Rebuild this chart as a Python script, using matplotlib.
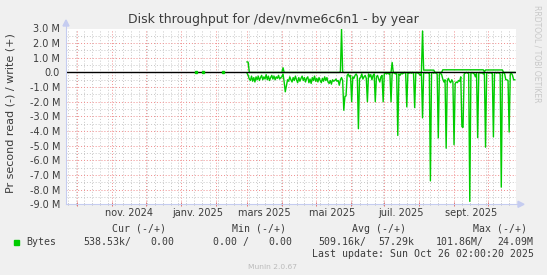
import datetime as dt
import numpy as np
import matplotlib
matplotlib.use("Agg")
import matplotlib.pyplot as plt
import matplotlib.dates as mdates
from matplotlib.lines import Line2D
from matplotlib.patches import Polygon, Rectangle
from matplotlib.ticker import MultipleLocator
from matplotlib.transforms import blended_transform_factory

W, H = 547, 275

# ---------------- data ----------------
graph_start = dt.datetime(2024, 9, 21, 2, 0, 20)
graph_end = dt.datetime(2025, 10, 26, 2, 0, 20)
series_start = dt.datetime(2025, 3, 1)

# daily read throughput (M bytes/s), plotted negative
read_M = [
    0.05, 0.20, 0.45, 0.55, 0.25, 0.60, 0.35, 0.65, 0.30, 0.50,
    0.25, 0.55, 0.35, 0.20, 0.50, 0.30, 0.45, 0.15, 0.50, 0.25,
    0.55, 0.35, 0.20, 0.45, 0.25, 0.50, 0.30, 0.40, 0.20, 0.45,
    0.35, 0.30, 0.10, 0.65, 1.32, 0.90, 0.50, 0.60, 0.30, 0.50,
    0.65, 0.35, 0.55, 0.25, 0.50, 0.70, 0.35, 0.60, 0.40, 0.25,
    0.55, 0.35, 0.65, 0.40, 0.30, 0.70, 0.45, 0.75, 0.35, 0.55,
    0.25, 0.60, 0.40, 0.65, 0.35, 0.55, 0.70, 0.40, 0.60, 0.30,
    0.55, 0.35, 0.65, 0.75, 0.55, 0.80, 0.50, 0.60, 0.55, 0.45,
    0.60, 0.55, 0.87, 0.50, 0.35, 0.55, 2.58, 1.65, 1.60, 0.20,
    0.10, 0.30, 0.20, 2.00, 0.30, 0.40, 0.20, 0.10, 0.25, 3.84,
    0.40, 0.35, 0.10, 0.45, 0.30, 0.20, 0.40, 2.00, 0.10, 0.30,
    0.15, 0.50, 0.20, 0.10, 2.00, 0.30, 0.20, 0.45, 0.65, 0.30,
    0.20, 2.00, 0.10, 0.05, 0.10, 0.05, 0.10, 0.05, 2.00, 0.05,
    0.00, 0.05, 0.10, 0.05, 4.30, 0.10, 0.20, 0.05, 0.10, 0.05,
    0.00, 0.05, 2.35, 0.00, 0.05, 0.00, 0.05, 0.00, 0.05, 2.40,
    0.05, 0.00, 0.05, 0.10, 0.20, 0.05, 3.10, 0.05, 0.00, 0.05,
    0.00, 0.05, 0.00, 7.40, 0.05, 0.00, 0.05, 0.00, 0.05, 0.10,
    4.47, 0.10, 0.05, 0.15, 0.45, 0.65, 0.50, 5.17, 0.55, 0.40,
    0.60, 0.70, 0.50, 0.65, 4.93, 0.75, 0.65, 0.70, 0.55, 0.60,
    0.30, 3.70, 3.75, 0.10, 0.05, 0.00, 0.05, 0.00, 8.80, 0.05,
    0.00, 0.05, 0.10, 0.30, 0.05, 4.45, 0.05, 0.00, 0.05, 0.00,
    0.10, 0.05, 5.10, 0.05, 0.00, 0.05, 0.00, 0.05, 0.00, 4.40,
    0.05, 0.00, 0.05, 0.00, 0.05, 0.10, 7.83, 0.05, 0.00, 0.10,
    0.50, 0.50, 0.55, 4.07, 0.10, 0.05, 0.20, 0.50, 0.50,
]

# daily write throughput (M bytes/s), plotted positive
write_M = [
    0.72, 0.70, 0.02, 0, 0, 0, 0, 0, 0, 0,
    0, 0, 0, 0, 0, 0, 0, 0, 0, 0,
    0, 0, 0, 0, 0, 0, 0, 0, 0, 0,
    0, 0, 0.32, 0, 0, 0, 0, 0, 0, 0,
    0, 0, 0, 0, 0, 0, 0, 0, 0, 0,
    0, 0, 0, 0, 0, 0, 0, 0, 0, 0,
    0, 0, 0, 0, 0, 0, 0, 0, 0, 0,
    0, 0, 0, 0, 0, 0, 0, 0, 0, 0,
    0, 0, 0, 0.05, 2.95, 0.05, 0, 0, 0, 0,
    0, 0, 0, 0, 0, 0, 0, 0, 0, 0,
    0, 0, 0, 0, 0, 0, 0, 0, 0, 0,
    0, 0, 0, 0, 0, 0, 0, 0, 0, 0,
    0, 0, 0, 0, 0, 0, 0, 0, 0, 0.68,
    0, 0, 0, 0, 0, 0, 0, 0, 0, 0,
    0, 0, 0, 0, 0, 0, 0, 0, 0, 0,
    0, 0, 0, 0, 0, 0, 2.83, 0.16, 0.16, 0.16,
    0.16, 0.16, 0.16, 0.16, 0.16, 0.16, 0.16, 0, 0, 0,
    0, 0, 0, 0, 0.18, 0.18, 0.18, 0.18, 0.18, 0.18,
    0.18, 0.18, 0.18, 0.18, 0.18, 0.18, 0.18, 0.18, 0.18, 0.18,
    0.18, 0.18, 0.18, 0.18, 0.18, 0.18, 0.18, 0.18, 0.18, 0.18,
    0.18, 0.18, 0.18, 0.18, 0.18, 0.18, 0.18, 0.18, 0.18, 0.18,
    0.18, 0.05, 0.17, 0.17, 0.17, 0.17, 0.17, 0.17, 0.17, 0.17,
    0.17, 0.17, 0.17, 0.17, 0.17, 0.17, 0.17, 0.17, 0, 0,
    0, 0, 0, 0, 0, 0, 0, 0, 0,
]

# isolated samples before the continuous series
dot_dates = [dt.datetime(2025, 1, 15), dt.datetime(2025, 1, 21), dt.datetime(2025, 2, 8)]
dot_write_M = [0.06, 0.05, 0.05]

month_labels = ["nov. 2024", "janv. 2025", "mars 2025", "mai 2025", "juil. 2025", "sept. 2025"]
month_label_dates = [dt.datetime(2024, 11, 16), dt.datetime(2025, 1, 16), dt.datetime(2025, 3, 16),
                     dt.datetime(2025, 5, 16), dt.datetime(2025, 7, 16), dt.datetime(2025, 9, 16)]

y_ticks = [3, 2, 1, 0, -1, -2, -3, -4, -5, -6, -7, -8, -9]
y_tick_labels = ["3.0 M", "2.0 M", "1.0 M", "0.0", "-1.0 M", "-2.0 M", "-3.0 M",
                 "-4.0 M", "-5.0 M", "-6.0 M", "-7.0 M", "-8.0 M", "-9.0 M"]

legend_name = "Bytes"
legend_headers = ["Cur (-/+)", "Min (-/+)", "Avg (-/+)", "Max (-/+)"]
legend_read = ["538.53k/", "0.00 /", "509.16k/", "101.86M/"]
legend_write = ["0.00", "0.00", "57.29k", "24.09M"]
last_update = "Last update: Sun Oct 26 02:00:20 2025"

# ---------------- drawing ----------------
GREEN = "#00CC00"
AXC = "#C5CCF0"
TXT = "#3c3c3c"


def fx(px):
    return px / W


def fy(py):
    return 1 - py / H


fig = plt.figure(figsize=(W / 100, H / 100), dpi=100, facecolor="#F0F0F0")
ax_l, ax_r, ax_t, ax_b = 66, 516, 28.5, 204.3
ax = fig.add_axes([fx(ax_l), fy(ax_b), (ax_r - ax_l) / W, (ax_b - ax_t) / H])
ax.set_facecolor("white")
for s in ax.spines.values():
    s.set_visible(False)

ax.set_xlim(graph_start, graph_end)
ax.set_ylim(-9, 3)

ax.xaxis.set_major_locator(mdates.MonthLocator())
ax.xaxis.set_minor_locator(mdates.WeekdayLocator(byweekday=mdates.MO))
ax.set_yticks(y_ticks)
ax.set_yticklabels(y_tick_labels)
ax.yaxis.set_minor_locator(MultipleLocator(0.5))

ax.grid(which="minor", color="#C8C8C8", linestyle=(0, (1, 2)), linewidth=0.7)
ax.grid(which="major", color="#F08C8C", linestyle=(0, (1, 2)), linewidth=0.7)
ax.set_axisbelow(True)

ax.tick_params(axis="x", which="major", length=3, width=0.7, color="#E07070",
               direction="inout", labelbottom=False)
ax.tick_params(axis="x", which="minor", length=2, width=0.6, color="#B0B0B0",
               direction="inout", labelbottom=False)
ax.tick_params(axis="y", which="both", length=0, labelsize=7, labelcolor=TXT, pad=4.3)

xtr = blended_transform_factory(ax.transData, ax.transAxes)
for d, lab in zip(month_label_dates, month_labels):
    ax.text(d, -(213.3 - ax_b) / (ax_b - ax_t), lab, transform=xtr, ha="center",
            va="center", fontsize=7, color=TXT)

dates = [series_start + dt.timedelta(days=i) for i in range(len(read_M))]
ax.plot(dates, -np.array(read_M), color=GREEN, linewidth=1.0, zorder=3)
ax.plot(dates, np.array(write_M), color=GREEN, linewidth=1.0, zorder=3)
ax.axhline(0, color="black", linewidth=1.0, zorder=4)
ax.plot(dot_dates, dot_write_M, linestyle="none", marker="s", markersize=1.8,
        color=GREEN, zorder=5)

# axes lines with arrows
fig.add_artist(Line2D([fx(ax_l), fx(ax_l)], [fy(ax_b), fy(24)], color=AXC, lw=0.8,
                      transform=fig.transFigure))
fig.add_artist(Line2D([fx(ax_l), fx(520)], [fy(ax_b), fy(ax_b)], color=AXC, lw=0.8,
                      transform=fig.transFigure))
fig.add_artist(Polygon([[fx(63), fy(26)], [fx(69), fy(26)], [fx(66), fy(20)]],
                       closed=True, color=AXC, transform=fig.transFigure))
fig.add_artist(Polygon([[fx(518), fy(ax_b - 3)], [fx(518), fy(ax_b + 3)], [fx(524), fy(ax_b)]],
                       closed=True, color=AXC, transform=fig.transFigure))

# titles
fig.text(fx(273), fy(20), "Disk throughput for /dev/nvme6c6n1 - by year",
         ha="center", va="center", fontsize=9, color=TXT)
fig.text(fx(11), fy(113.5), "Pr second read (-) / write (+)", rotation=90,
         ha="center", va="center", fontsize=8, color=TXT)
fig.text(fx(537), fy(5), "RRDTOOL / TOBI OETIKER", rotation=270, ha="center",
         va="top", fontsize=5.5, color="#C8C8C8")

# legend
MONO = "DejaVu Sans Mono"
LFS = 7.1
header_x = [111.7, 232, 352.4, 472.8]
read_x = [83, 212.8, 318.2, 436.2]
write_x = [150, 268, 378.6, 497.2]
for hx, h in zip(header_x, legend_headers):
    fig.text(fx(hx), fy(228.6), h, ha="left", va="center", family=MONO, fontsize=LFS, color=TXT)
fig.add_artist(Rectangle((fx(14), fy(244.5)), 5 / W, 5 / H, color=GREEN,
                         transform=fig.transFigure))
fig.text(fx(26.2), fy(241.9), legend_name, ha="left", va="center", family=MONO,
         fontsize=LFS, color=TXT)
for rx, r in zip(read_x, legend_read):
    fig.text(fx(rx), fy(241.9), r, ha="left", va="center", family=MONO, fontsize=LFS, color=TXT)
for wx, w in zip(write_x, legend_write):
    fig.text(fx(wx), fy(241.9), w, ha="left", va="center", family=MONO, fontsize=LFS, color=TXT)
fig.text(fx(311.6), fy(254.1), last_update, ha="left", va="center", family=MONO,
         fontsize=LFS, color=TXT)
fig.text(fx(272.9), fy(267), "Munin 2.0.67", ha="center", va="center", fontsize=5.4,
         color="#BBBBBB")

fig.savefig("out.png", dpi=100, facecolor=fig.get_facecolor())
